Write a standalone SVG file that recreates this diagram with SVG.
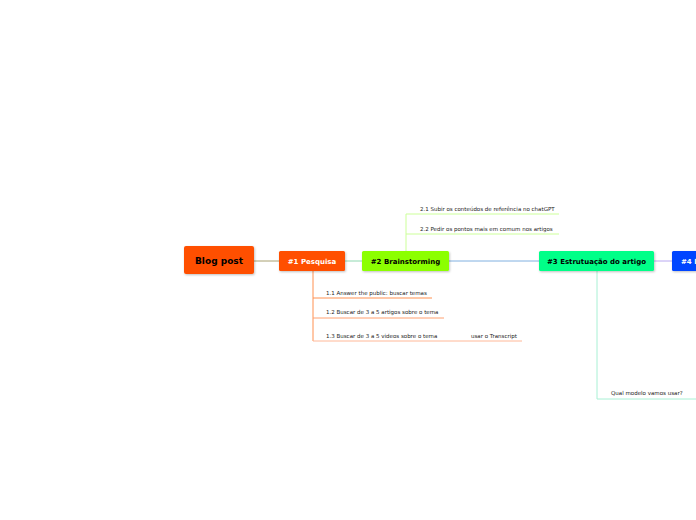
<svg xmlns="http://www.w3.org/2000/svg" width="696" height="520" viewBox="0 0 696 520">
<style>
.nt{font-family:"DejaVu Sans",Verdana,sans-serif;font-weight:bold;font-size:7px;text-anchor:middle}
.st{font-family:"DejaVu Sans",Verdana,sans-serif;font-size:5.5px;fill:#222}
.ln{fill:none;stroke-width:1}
</style>
<defs>
<filter id="sh" x="-10%" y="-20%" width="130%" height="160%"><feDropShadow dx="0.8" dy="1" stdDeviation="0.8" flood-color="#000" flood-opacity="0.25"/></filter>
</defs>
<rect width="696" height="520" fill="#fff"/>
<g id="connectors">
<line class="ln" x1="254" y1="261" x2="279" y2="261" stroke="#A8A070"/>
<line class="ln" x1="345" y1="261" x2="362" y2="261" stroke="#8FD8B0"/>
<line class="ln" x1="449" y1="261" x2="539" y2="261" stroke="#80B0E0" stroke-width="1.5"/>
<line class="ln" x1="654" y1="261" x2="672" y2="261" stroke="#B8A8F0" stroke-width="1.5"/>
<path class="ln" d="M313 271V341" stroke="#FF9050"/>
<path class="ln" d="M313 298H432" stroke="#FF9050"/>
<path class="ln" d="M313 318H444" stroke="#FFA070"/>
<path class="ln" d="M313 341H522" stroke="#FFB898"/>
<path class="ln" d="M406 251V214H559" stroke="#CCFF99"/>
<path class="ln" d="M406 234H559" stroke="#CCFF99"/>
<path class="ln" d="M597 271V399H696" stroke="#A8F0D4"/>
</g>
<g id="n0"><rect x="184" y="246" width="70" height="28" rx="2" fill="#FF5000" filter="url(#sh)"/><text class="nt" x="219" y="264" style="font-size:9px" fill="#000">Blog post</text></g>
<g id="n1"><rect x="279" y="251" width="66" height="20" rx="1.5" fill="#FF5000" filter="url(#sh)"/><text class="nt" x="312" y="263.5" fill="#fff">#1 Pesquisa</text></g>
<g id="n2"><rect x="362" y="251" width="87" height="20" rx="1.5" fill="#8CFF00" filter="url(#sh)"/><text class="nt" x="405.5" y="263.5" fill="#000">#2 Brainstorming</text></g>
<g id="n3"><rect x="539" y="251" width="115" height="20" rx="1.5" fill="#00FF88" filter="url(#sh)"/><text class="nt" x="596.5" y="263.5" fill="#000">#3 Estrutuação do artigo</text></g>
<g id="n4"><rect x="672" y="251" width="40" height="20" rx="1.5" fill="#0044FF" filter="url(#sh)"/><text class="nt" x="681" y="263.5" fill="#fff" style="text-anchor:start">#4 I</text></g>
<g id="n11"><text class="st" x="326" y="295">1.1 Answer the public: buscar temas</text></g>
<g id="n12"><text class="st" x="326" y="314">1.2 Buscar de 3 a 5 artigos sobre o tema</text></g>
<g id="n13"><text class="st" x="326" y="338">1.3 Buscar de 3 a 5 videos sobre o tema</text></g>
<g id="n131"><text class="st" x="471" y="338">usar o Transcript</text></g>
<g id="n21"><text class="st" x="420" y="211">2.1 Subir os conteúdos de referência no chatGPT</text></g>
<g id="n22"><text class="st" x="420" y="231">2.2 Pedir os pontos mais em comum nos artigos</text></g>
<g id="n31"><text class="st" x="611" y="395">Qual modelo vamos usar?</text></g>
</svg>
